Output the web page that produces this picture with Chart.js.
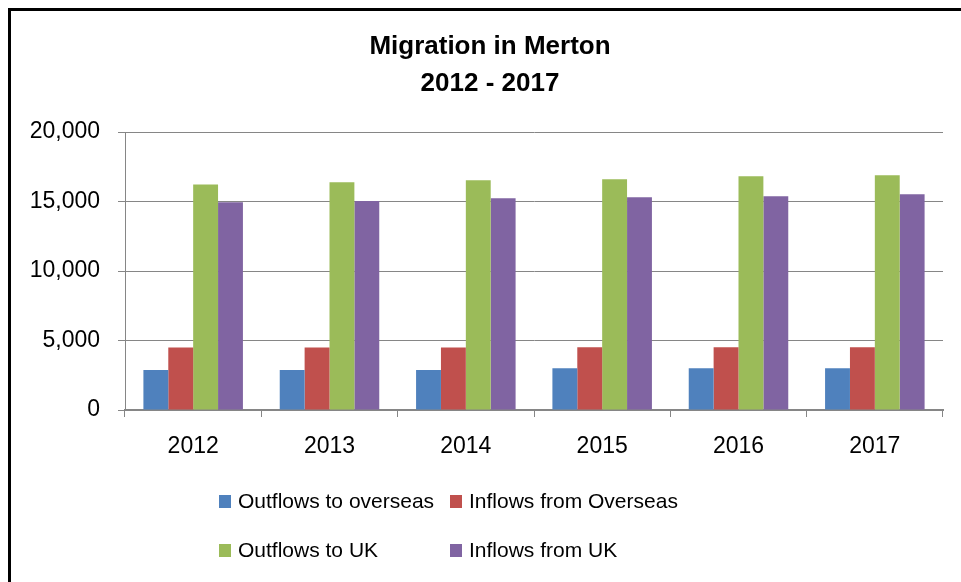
<!DOCTYPE html>
<html>
<head>
<meta charset="utf-8">
<script src="https://cdn.jsdelivr.net/npm/chart.js@4.4.1/dist/chart.umd.min.js"></script>
<style>
  html, body { margin: 0; padding: 0; background: #fff; overflow: hidden; }
  #wrap { position: relative; width: 961px; height: 582px; }
  #frame {
    position: absolute; left: 8px; top: 8px; width: 1200px; height: 1200px;
    border: 3px solid #000; box-sizing: border-box;
  }
  #migrationChart { position: absolute; left: 0; top: 0; }
  .legend { position: absolute; font-family: "Liberation Sans", Arial, sans-serif; font-size: 21px; color: #000; }
  .legend-item { position: absolute; white-space: nowrap; display: flex; align-items: center; }
  .legend-box { width: 12px; height: 13px; margin-right: 7px; }
</style>
</head>
<body>
<div id="wrap">
  <div id="frame"></div>
  <canvas id="migrationChart" width="961" height="582"></canvas>
  <div class="legend" id="legend"></div>
</div>
<script>
// Chart data
const years = ['2012', '2013', '2014', '2015', '2016', '2017'];
const outflowsOverseas = [2870, 2870, 2870, 3000, 3000, 3000];
const inflowsOverseas = [4500, 4500, 4500, 4510, 4510, 4510];
const outflowsUK = [16230, 16380, 16520, 16600, 16810, 16880];
const inflowsUK = [14940, 15030, 15230, 15300, 15370, 15520];
const seriesNames = ['Outflows to overseas', 'Inflows from Overseas', 'Outflows to UK', 'Inflows from UK'];
const seriesColors = ['#4F81BD', '#C0504D', '#9BBB59', '#8064A2'];
const yTicks = [0, 5000, 10000, 15000, 20000];
const titleLines = ['Migration in Merton', '2012 - 2017'];

const font = '"Liberation Sans", Arial, sans-serif';
const gridColor = '#868686';

// The original title sits centred on the full chart frame, not the plot,
// so draw it ourselves instead of using the title plugin
const frameTitle = {
  id: 'frameTitle',
  afterDraw(chart) {
    const c = chart.ctx;
    c.save();
    c.fillStyle = '#000';
    c.font = `bold 26px ${font}`;
    c.textAlign = 'center';
    c.textBaseline = 'middle';
    c.fillText(titleLines[0], 490, 47);
    c.fillText(titleLines[1], 490, 84);
    c.restore();
  }
};

const ctx = document.getElementById('migrationChart');
const chart = new Chart(ctx, {
  type: 'bar',
  data: {
    labels: years,
    datasets: [outflowsOverseas, inflowsOverseas, outflowsUK, inflowsUK].map((values, i) => ({
      label: seriesNames[i],
      data: values,
      backgroundColor: seriesColors[i],
      borderWidth: 0,
      categoryPercentage: 0.73,
      barPercentage: 1
    }))
  },
  options: {
    responsive: false,
    animation: false,
    layout: { padding: { left: 0, right: 18, top: 132, bottom: 122 } },
    plugins: {
      legend: { display: false },
      tooltip: { enabled: false },
      title: { display: false }
    },
    scales: {
      y: {
        min: 0,
        max: 20000,
        afterBuildTicks: scale => { scale.ticks = yTicks.map(v => ({ value: v })); },
        afterFit: scale => { scale.width = 125; },
        ticks: {
          color: '#000',
          padding: 18,
          font: { family: font, size: 23 },
          callback: v => v.toLocaleString('en-US')
        },
        grid: { color: gridColor, lineWidth: 1, tickLength: 7 },
        border: { color: gridColor, width: 1 }
      },
      x: {
        afterFit: scale => { scale.height = 50; },
        ticks: {
          color: '#000',
          padding: 16,
          font: { family: font, size: 23 }
        },
        grid: { drawOnChartArea: false, color: gridColor, tickLength: 7 },
        border: { color: gridColor, width: 2 }
      }
    }
  },
  plugins: [frameTitle]
});

// Build legend in two columns like the original
const legend = document.getElementById('legend');
const legendPos = [[219, 489], [450, 489], [219, 538], [450, 538]];
chart.data.datasets.forEach((ds, i) => {
  const item = document.createElement('div');
  item.className = 'legend-item';
  item.style.left = legendPos[i][0] + 'px';
  item.style.top = legendPos[i][1] + 'px';
  item.innerHTML = `<span class="legend-box" style="background:${ds.backgroundColor}"></span><span>${ds.label}</span>`;
  legend.appendChild(item);
});
</script>
</body>
</html>
